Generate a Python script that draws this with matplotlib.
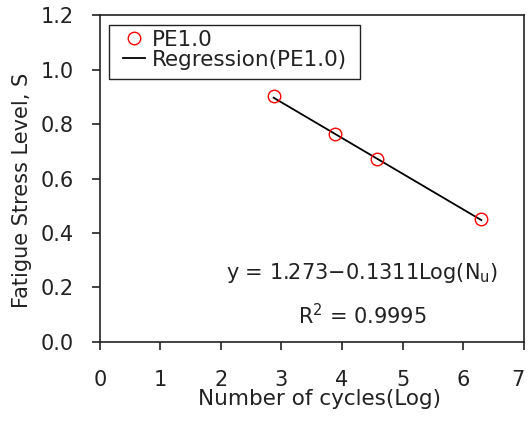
import matplotlib
matplotlib.use("Agg")
import matplotlib.pyplot as plt
from matplotlib.patches import Rectangle
from matplotlib.transforms import ScaledTranslation
import numpy as np

plt.rcParams['font.family'] = ['DejaVu Sans']

log_cycles = [2.87, 3.88, 4.57, 6.30]
stress = [0.904, 0.762, 0.672, 0.453]
intercept = 1.273
slope = -0.1311
x_ticks = [0, 1, 2, 3, 4, 5, 6, 7]
y_ticks = [0.0, 0.2, 0.4, 0.6, 0.8, 1.0, 1.2]

FS = 15

fig = plt.figure(figsize=(5.28, 4.21), dpi=100)
ax = fig.add_axes([0.189, 0.188, 0.803, 0.776])

ax.plot(log_cycles, stress, 'o', ls='none', mfc='none', mec='red', mew=1.0,
        ms=9, label='PE1.0', zorder=3)
xr = np.array([log_cycles[0], log_cycles[-1]])
ax.plot(xr, intercept + slope * xr, color='black', lw=1.3,
        label='Regression(PE1.0)', zorder=2)

ax.set_xlim(0, 7)
ax.set_ylim(0, 1.2)
ax.set_xticks(x_ticks)
ax.set_yticks(y_ticks)
ax.set_yticklabels([f'{v:.1f}' for v in y_ticks])
ax.tick_params(direction='out', length=6, width=1.2, labelsize=FS, colors='#222222', pad=13)
ax.tick_params(axis='x', pad=14)
for s in ax.spines.values():
    s.set_linewidth(1.2)
    s.set_color('#222222')

# nudge the last x tick label so it stays inside the figure
last = ax.get_xticklabels()[-1]
last.set_transform(last.get_transform() + ScaledTranslation(-4 / 72, 0, fig.dpi_scale_trans))

ax.set_xlabel('Number of cycles(Log)', fontsize=15.5, color='#222222')
ax.xaxis.set_label_coords(0.519, -0.145)
ax.set_ylabel('Fatigue Stress Level, S', fontsize=FS, color='#222222')
ax.yaxis.set_label_coords(-0.160, 0.464)

ax.text(4.33, 0.252, 'y = 1.273\u22120.1311Log(N$_\\mathregular{u}$)', fontsize=FS,
        ha='center', va='center', color='#222222')
ax.text(4.33, 0.098, 'R$^\\mathregular{2}$ = 0.9995', fontsize=FS,
        ha='center', va='center', color='#222222')

# legend frame and entries
ax.add_patch(Rectangle((0.021, 0.804), 0.592, 0.165, transform=ax.transAxes,
                       fill=False, edgecolor='#222222', lw=1.0, zorder=4))
leg = ax.legend(loc='upper left', bbox_to_anchor=(0.054, 0.955), fontsize=15.5,
                frameon=False, handlelength=1.05, handletextpad=0.3,
                borderpad=0.0, labelspacing=0.0, borderaxespad=0.0)
for t in leg.get_texts():
    t.set_color('#222222')

fig.savefig('out.png', dpi=100)
